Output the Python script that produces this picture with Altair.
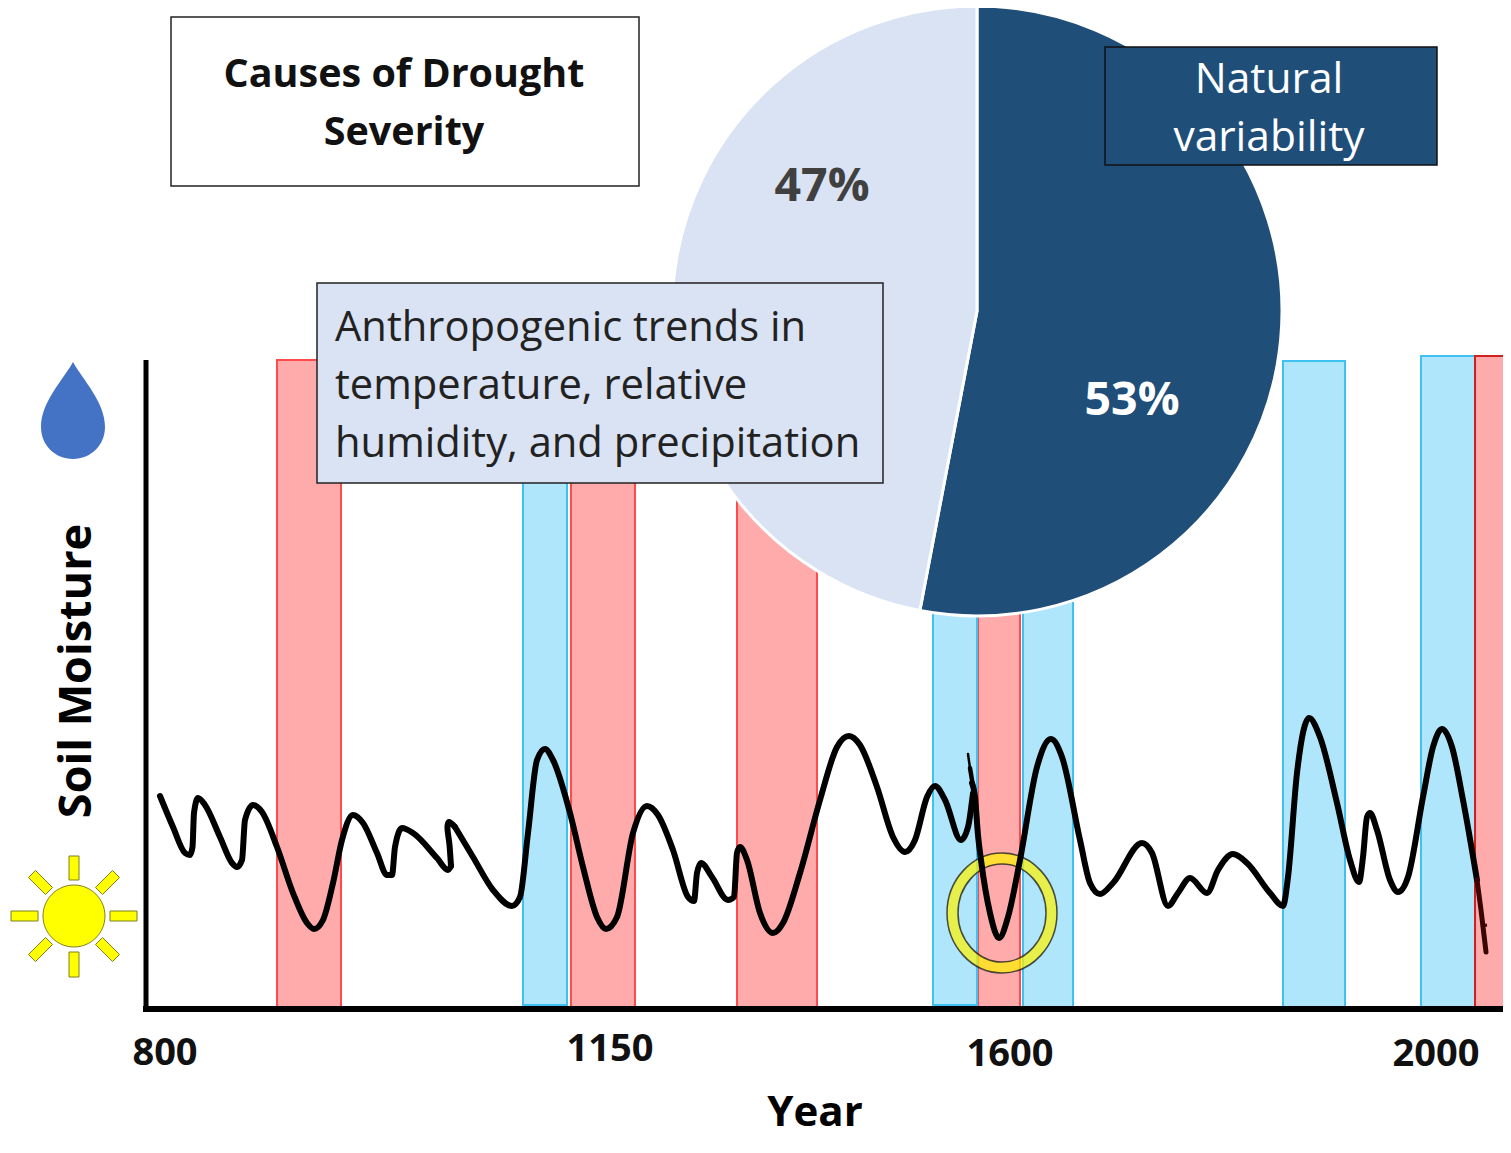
import altair as alt
import pandas as pd

# Positions are in the reference's own units, mapped by the shared x and y scales.
curve_a_x = [160,173,185,190,192.5,194,198,205,220,232,237,242,245,253,262,277,293,307,314,323,333,342,353,363,377,387,392,395,402,413,437,448,451]
curve_a_y = [796,827,853,855,847,813,798,805,837,863,867,860,820,805,812,847,893,923,929,920,883,840,815,823,853,875,875,847,828,833,858,870,866]
spur_x = [451,449.5,447.5,449,455]
spur_y = [866,845,826,822,827]
curve_c_x = [455,473,493,512,520,528,537,545,553,570,583,597,606,617,633,647,658,673,688,694,697,701,712,728,734,737,740,747,760,773,783,800,820,837,849,860,877,893,905,915,927,935,945,961,968,973]
curve_c_y = [827,857,890,906,897,833,760,749,760,813,867,917,929,917,833,806,815,850,897,901,873,863,877,900,897,853,847,860,913,933,923,873,800,747,736,745,787,837,852,840,797,786,800,840,827,793]
curve_b_x = [972,975,978,981,990,999,1008,1020,1037,1051,1062,1080,1090,1100,1113,1142,1152,1168,1178,1190,1207,1218,1233,1247,1270,1283,1288,1297,1309,1320,1337,1350,1359,1363,1367,1370,1377,1390,1398,1408,1423,1433,1442,1452,1463,1477]
curve_b_y = [783,797,835,860,913,938,917,860,767,739,757,840,883,894,883,843,853,906,893,878,893,870,854,863,893,906,877,773,718,737,803,860,882,857,817,813,830,880,892,877,797,747,729,747,800,880]
spike_x = [968,970,973]
spike_y = [754,768,786]
spike_mid_x = [970,973]
spike_mid_y = [768,786]
tail_x = [1477,1481,1484,1486]
tail_y = [880,910,935,952]
nub_x = [1481,1487]
nub_y = [926,925]

red_start = [277,571,737,978]
red_end = [341,635,817,1020]
red_top = [360,360,360,360]
red_bottom = [1007,1007,1007,1007]
blue_start = [523,933,1023,1283,1421]
blue_end = [567,977,1073,1345,1475]
blue_top = [360,360,360,361,356]
blue_bottom = [1005,1005,1007,1007,1007]
last_red_start, last_red_end, last_red_top, last_red_bottom = [1475], [1520], [356], [1009]

pie_names = ["Natural variability", "Anthropogenic trends"]
pie_shares = [53, 47]
pie_colors = ["#1F4E79", "#DAE3F3"]

tick_labels = ["800", "1150", "1600", "2000"]
tick_x = [165, 610, 1010, 1436]
tick_y = [1054, 1050, 1055, 1055]

XS = alt.Scale(domain=[8, 1503], nice=False, zero=False)
YS = alt.Scale(domain=[8, 1140], nice=False, zero=False, reverse=True)
X = alt.X("x:Q", scale=XS, axis=None)
Y = alt.Y("y:Q", scale=YS, axis=None)


def bars(x1, x2, y1, y2, **mark):
    d = pd.DataFrame({"x": x1, "x2": x2, "y": y1, "y2": y2})
    return alt.Chart(d).mark_rect(**mark).encode(X, alt.X2("x2:Q"), Y, alt.Y2("y2:Q"))


def line(xs, ys, **mark):
    d = pd.DataFrame({"x": xs, "y": ys, "i": range(len(xs))})
    return alt.Chart(d).mark_line(**mark).encode(X, Y, order=alt.Order("i:Q"))


def label(txt, x, y, **mark):
    d = pd.DataFrame({"x": [x], "y": [y], "t": [txt]})
    opts = dict(font="Open Sans", baseline="middle", align="center")
    opts.update(mark)
    return alt.Chart(d).mark_text(**opts).encode(X, Y, text="t:N")


def symbol(x, y, path, **mark):
    d = pd.DataFrame({"x": [x], "y": [y]})
    return alt.Chart(d).mark_point(shape=path, size=4, filled=True, opacity=1, **mark).encode(X, Y)


curve_style = dict(color="black", strokeWidth=6, interpolate="monotone", strokeCap="round", strokeJoin="round")

ring = ("M-55,0 C-55,-33 -30,-60 0,-60 C30,-60 55,-33 55,0 C55,33 30,60 0,60 C-30,60 -55,33 -55,0 Z "
        "M-44,0 C-44,27 -24,49 0,49 C24,49 44,27 44,0 C44,-27 24,-49 0,-49 C-24,-49 -44,-27 -44,0 Z")
drop = "M0,-52 C10,-34 32,-12 32,13 C32,31 18,45 0,45 C-18,45 -32,31 -32,13 C-32,-12 -10,-34 0,-52 Z"
disc = "M-31,0 C-31,-17 -17,-31 0,-31 C17,-31 31,-17 31,0 C31,17 17,31 0,31 C-17,31 -31,17 -31,0 Z"
rays = ("M-5,-60 L5,-60 L5,-36 L-5,-36 Z M-5,36 L5,36 L5,61 L-5,61 Z M-63,-5 L-36,-5 L-36,5 L-63,5 Z M36,-5 L63,-5 L63,5 L36,5 Z "
        "M-28.5,-21.5 L-21.5,-28.5 L-38.5,-45.5 L-45.5,-38.5 Z M28.5,-21.5 L21.5,-28.5 L38.5,-45.5 L45.5,-38.5 Z "
        "M-28.5,21.5 L-21.5,28.5 L-38.5,45.5 L-45.5,38.5 Z M28.5,21.5 L21.5,28.5 L38.5,45.5 L45.5,38.5 Z")

pie_df = pd.DataFrame({"x": [977, 977], "y": [311, 311], "name": pie_names, "share": pie_shares, "ord": [0, 1]})
pie = alt.Chart(pie_df).mark_arc(outerRadius=305, stroke="white", strokeWidth=3).encode(
    X, Y,
    theta=alt.Theta("share:Q", stack=True),
    color=alt.Color("name:N", scale=alt.Scale(domain=pie_names, range=pie_colors), legend=None),
    order=alt.Order("ord:Q"),
)

layers = [
    bars(red_start, red_end, red_top, red_bottom, fill="#FFABAB", stroke="#FF4B4B", strokeWidth=2),
    bars(blue_start, blue_end, blue_top, blue_bottom, fill="#B0E6FB", stroke="#3FC1F2", strokeWidth=2),
    bars(last_red_start, last_red_end, last_red_top, last_red_bottom, fill="#FFABAB", stroke="#D02020", strokeWidth=2),
    symbol(1002, 913, ring, fill="#FFF200", fillOpacity=0.7, stroke="#222222", strokeWidth=1.5, strokeOpacity=0.8),
    line(curve_a_x, curve_a_y, **curve_style),
    line(spur_x, spur_y, **{**curve_style, "interpolate": "catmull-rom"}),
    line(curve_c_x, curve_c_y, **curve_style),
    line(curve_b_x, curve_b_y, **curve_style),
    line(spike_x, spike_y, color="black", strokeWidth=2.5, strokeCap="round"),
    line(spike_mid_x, spike_mid_y, color="black", strokeWidth=4.5, strokeCap="round"),
    line(tail_x, tail_y, color="#3A0505", strokeWidth=5, strokeCap="round"),
    line(nub_x, nub_y, color="#3A0505", strokeWidth=3),
    line([146, 146], [360, 1011], color="black", strokeWidth=5),
    line([143, 1511], [1009, 1009], color="black", strokeWidth=6),
    symbol(73, 414, drop, fill="#4472C4"),
    symbol(74, 916, rays, fill="#FFFF00", stroke="#7F7F20", strokeWidth=1),
    symbol(74, 916, disc, fill="#FFFF00", stroke="#7F7F20", strokeWidth=1),
    pie,
    bars([171], [639], [17], [186], fill="white", stroke="#222222", strokeWidth=1.5),
    bars([1105], [1437], [47], [165], fill="#1F4E79", stroke="#111111", strokeWidth=1.5),
    bars([317], [883], [283], [483], fill="#DAE3F3", stroke="#222222", strokeWidth=1.5),
    label("Causes of Drought", 404, 75, fontSize=39.5, fontWeight="bold", color="#111111"),
    label("Severity", 404, 133, fontSize=39.5, fontWeight="bold", color="#111111"),
    label("Natural", 1269, 80, fontSize=42.5, color="white"),
    label("variability", 1269, 138, fontSize=42.5, color="white"),
    label("Anthropogenic trends in", 335, 328, fontSize=41.7, align="left", color="#222222"),
    label("temperature, relative", 335, 386, fontSize=41.7, align="left", color="#222222"),
    label("humidity, and precipitation", 335, 444, fontSize=41.7, align="left", color="#222222"),
    label("47%", 822, 187, fontSize=46.5, fontWeight="bold", color="#404040"),
    label("53%", 1132, 401, fontSize=46.5, fontWeight="bold", color="white"),
    label("Soil Moisture", 77, 671, fontSize=45, fontWeight="bold", angle=270, color="black"),
    label("Year", 815, 1113, fontSize=42, fontWeight="bold", color="black"),
]
for t, tx, ty in zip(tick_labels, tick_x, tick_y):
    layers.append(label(t, tx, ty, fontSize=38, fontWeight="bold", color="#111111"))

chart = alt.layer(*layers).properties(
    width=1495, height=1132, padding=0,
    autosize=alt.AutoSizeParams(type="none"),
).configure_view(stroke=None)

chart.save("out.html", embed_options={"renderer": "svg", "actions": False})
